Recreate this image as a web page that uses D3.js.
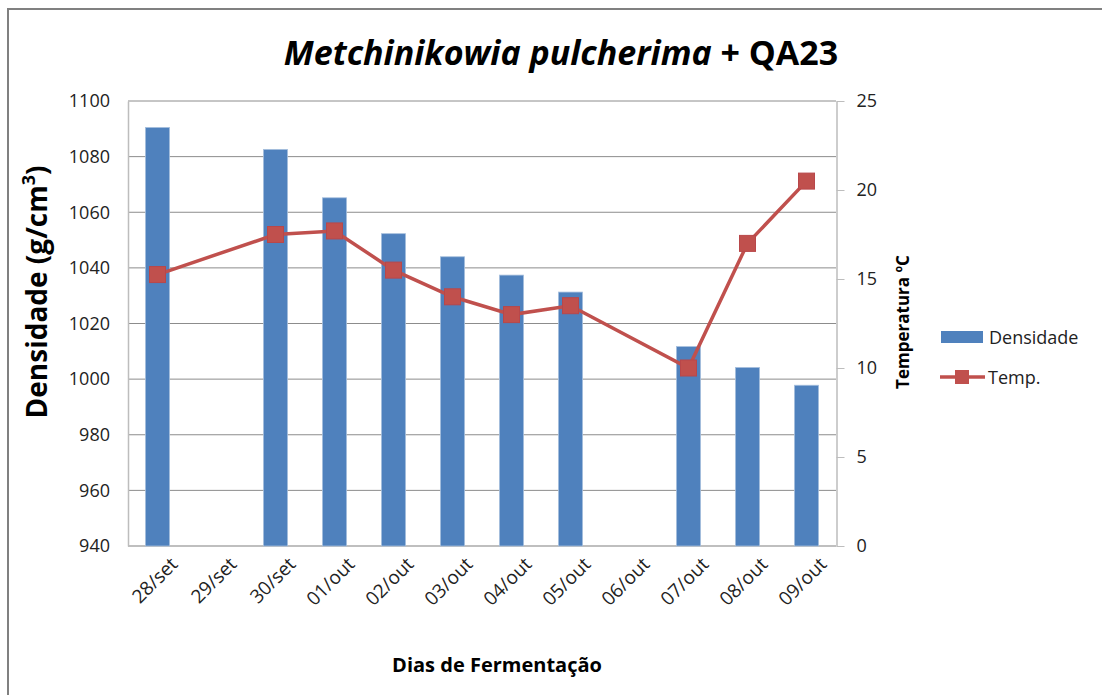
<!DOCTYPE html>
<html>
<head>
<meta charset="utf-8">
<script src="https://cdn.jsdelivr.net/npm/d3@7"></script>
<style>
  body { margin: 0; background: #fff; overflow: hidden; }
  text { font-family: "Open Sans", "Noto Sans", sans-serif; }
</style>
</head>
<body>
<script>
var width = 1102,
  height = 695

var margin = {top: 101, right: 266, bottom: 149, left: 128}

var days = ['28/set', '29/set', '30/set', '01/out', '02/out', '03/out', '04/out', '05/out', '06/out', '07/out', '08/out', '09/out']
var densidade = [1090.5, null, 1082.6, 1065.2, 1052.3, 1044, 1037.4, 1031.3, null, 1011.7, 1004.2, 997.8]
var temperatura = [15.25, null, 17.5, 17.7, 15.5, 14.0, 13.0, 13.5, null, 10.0, 17.0, 20.5]
var densTicks = [940, 960, 980, 1000, 1020, 1040, 1060, 1080, 1100]
var tempTicks = [0, 5, 10, 15, 20, 25]

var blue = '#4f81bd',
  red = '#c0504d'

var svg = d3.select('body').append('svg')
  .attr('width', width)
  .attr('height', height)

// outer chart border (runs off the right and bottom edges)
svg.append('rect')
  .attr('x', 8).attr('y', 9)
  .attr('width', width + 40).attr('height', height + 40)
  .attr('fill', 'none')
  .attr('stroke', '#808080')
  .attr('stroke-width', 2)

var innerW = width - margin.left - margin.right,
  innerH = height - margin.top - margin.bottom

var g = svg.append('g')
  .attr('transform', 'translate(' + margin.left + ',' + margin.top + ')')

var x = d3.scaleBand()
  .domain(days)
  .range([0, innerW])
  .paddingInner(0.59)
  .paddingOuter(0.295)

var y = d3.scaleLinear().domain([940, 1100]).range([innerH, 0])
var y2 = d3.scaleLinear().domain([0, 25]).range([innerH, 0])

// gridlines
g.selectAll('.grid')
  .data(densTicks)
  .enter().append('line')
  .attr('class', 'grid')
  .attr('x1', 0).attr('x2', innerW)
  .attr('y1', function (d) { return y(d) }).attr('y2', function (d) { return y(d) })
  .attr('stroke', '#8c8c8c')
  .attr('stroke-width', 1)

// left axis
var yAxis = g.append('g')
  .call(d3.axisLeft(y).tickValues(densTicks).tickFormat(d3.format('d')).tickSize(0).tickPadding(18))
yAxis.select('.domain').attr('stroke', '#bdbdbd').attr('stroke-width', 1.5)
yAxis.selectAll('text').attr('font-size', 18).attr('fill', '#222')

// right axis
var y2Axis = g.append('g')
  .attr('transform', 'translate(' + (innerW + 0.5) + ',0)')
  .call(d3.axisRight(y2).tickValues(tempTicks).tickSizeOuter(0).tickSizeInner(8).tickPadding(12))
y2Axis.select('.domain').attr('stroke', '#bdbdbd').attr('stroke-width', 1.5)
y2Axis.selectAll('.tick line').attr('stroke', '#bdbdbd')
y2Axis.selectAll('text').attr('font-size', 18).attr('fill', '#222')

// bottom axis line
g.append('line')
  .attr('x1', 0).attr('x2', innerW)
  .attr('y1', innerH).attr('y2', innerH)
  .attr('stroke', '#bdbdbd').attr('stroke-width', 1.5)

// bars
g.selectAll('.bar')
  .data(days.map(function (d, i) { return {day: d, v: densidade[i]} }).filter(function (d) { return d.v != null }))
  .enter().append('rect')
  .attr('class', 'bar')
  .attr('x', function (d) { return x(d.day) })
  .attr('width', x.bandwidth())
  .attr('y', function (d) { return y(d.v) })
  .attr('height', function (d) { return innerH - y(d.v) })
  .attr('fill', blue)
  .attr('stroke', '#a7c0de')
  .attr('stroke-width', 0.8)

// temperature line
var tempData = days.map(function (d, i) { return {day: d, v: temperatura[i]} }).filter(function (d) { return d.v != null })
var cx = function (d) { return x(d.day) + x.bandwidth() / 2 }

g.append('path')
  .datum(tempData)
  .attr('fill', 'none')
  .attr('stroke', red)
  .attr('stroke-width', 3.5)
  .attr('d', d3.line().x(cx).y(function (d) { return y2(d.v) }))

g.selectAll('.marker')
  .data(tempData)
  .enter().append('rect')
  .attr('class', 'marker')
  .attr('x', function (d) { return cx(d) - 8 })
  .attr('y', function (d) { return y2(d.v) - 8 })
  .attr('width', 16).attr('height', 16)
  .attr('fill', red)
  .attr('stroke', '#b8474a')
  .attr('stroke-width', 1)

// x labels
g.selectAll('.xlab')
  .data(days)
  .enter().append('text')
  .attr('class', 'xlab')
  .attr('transform', function (d) { return 'translate(' + (x(d) + x.bandwidth() / 2 + 12) + ',' + (innerH + 10) + ') rotate(-45)' })
  .attr('text-anchor', 'end')
  .attr('dy', '0.7em')
  .attr('font-size', 19)
  .attr('fill', '#222')
  .text(function (d) { return d })

// title
var title = svg.append('text')
  .attr('x', 561).attr('y', 65)
  .attr('text-anchor', 'middle')
  .attr('font-size', 34)
  .attr('font-weight', 'bold')
  .attr('fill', '#000')
title.append('tspan').attr('font-style', 'italic').text('Metchinikowia pulcherima')
title.append('tspan').text(' + QA23')

// axis titles
var yl = svg.append('text')
  .attr('transform', 'translate(47,292) rotate(-90)')
  .attr('text-anchor', 'middle')
  .attr('font-size', 28)
  .attr('font-weight', 'bold')
  .text('Densidade (g/cm')
yl.append('tspan').attr('baseline-shift', 'super').attr('font-size', 18).text('3')
yl.append('tspan').text(')')

svg.append('text')
  .attr('transform', 'translate(909,322) rotate(-90)')
  .attr('text-anchor', 'middle')
  .attr('font-size', 17)
  .attr('font-weight', 'bold')
  .text('Temperatura ºC')

svg.append('text')
  .attr('x', 497).attr('y', 672)
  .attr('text-anchor', 'middle')
  .attr('font-size', 20)
  .attr('font-weight', 'bold')
  .text('Dias de Fermentação')

// legend
var legend = svg.append('g')
legend.append('rect')
  .attr('x', 941).attr('y', 331).attr('width', 42).attr('height', 12)
  .attr('fill', blue)
legend.append('text')
  .attr('x', 989).attr('y', 344)
  .attr('font-size', 18).attr('fill', '#222')
  .text('Densidade')
legend.append('line')
  .attr('x1', 940).attr('x2', 985).attr('y1', 377).attr('y2', 377)
  .attr('stroke', red).attr('stroke-width', 3.5)
legend.append('rect')
  .attr('x', 955).attr('y', 370).attr('width', 14).attr('height', 14)
  .attr('fill', red)
legend.append('text')
  .attr('x', 988).attr('y', 384)
  .attr('font-size', 18).attr('fill', '#222')
  .text('Temp.')
</script>
</body>
</html>
